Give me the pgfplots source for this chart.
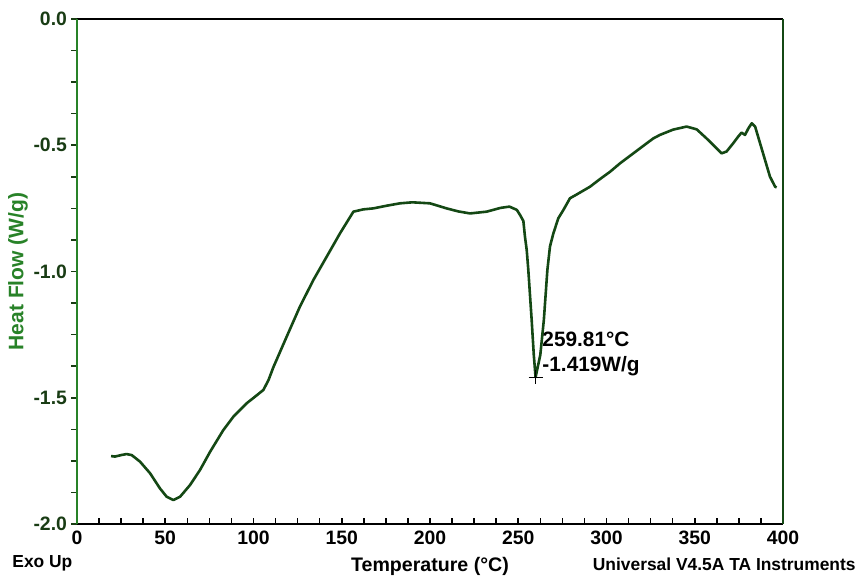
\documentclass[border=0pt]{standalone}
\usepackage{pgfplots}
\pgfplotsset{compat=1.18}
\usepackage{fontspec}
\setmainfont{Liberation Sans}
\definecolor{curve}{RGB}{20,72,20}
\definecolor{lgreen}{RGB}{40,130,40}
\definecolor{tgreen}{RGB}{25,60,20}
\begin{document}
\begin{tikzpicture}[x=1pt,y=1pt]
\useasboundingbox (-38.5,-27.5) rectangle (391.5,262);
\begin{axis}[
  at={(0,0)}, anchor=south west,
  scale only axis, width=353pt, height=252.5pt,
  xmin=0, xmax=400, ymin=-2, ymax=0,
  axis line style={draw=none},
  xtick={0,50,...,400}, minor x tick num=3,
  ytick={-2,-1.5,-1,-0.5,0},
  yticklabels={-2.0,-1.5,-1.0,-0.5,0.0},
  minor y tick num=3,
  xtick pos=bottom, ytick pos=left,
  xtick align=inside, ytick align=outside,
  major tick length=3pt, minor tick length=3pt,
  x tick style={black, line width=0.8pt},
  y tick style={tgreen, line width=0.8pt},
  tick label style={font=\fontsize{9.7}{11}\selectfont\bfseries},
  x tick label style={black, yshift=0pt},
  y tick label style={tgreen, xshift=1.5pt},
  /pgf/number format/assume math mode=true,
  clip=false,
]
\addplot[curve, line width=1.3pt, line join=round] coordinates {
(19.3,-1.731)(21.5,-1.733)(25,-1.727)(28.1,-1.723)(31,-1.727)(35.7,-1.753)
(41.4,-1.799)(47,-1.859)(50.8,-1.892)(54.6,-1.905)(58.4,-1.892)(64,-1.846)
(69.7,-1.786)(75.4,-1.714)(82.9,-1.628)(88.6,-1.575)(96.1,-1.522)(101,-1.495)
(105.6,-1.469)(108.5,-1.43)(111.2,-1.38)(118.8,-1.258)(126.3,-1.139)
(133.9,-1.034)(141.5,-0.941)(149,-0.849)(156.6,-0.763)(162.2,-0.754)
(167.9,-0.750)(175,-0.740)(183,-0.730)(190,-0.726)(200,-0.730)(209.4,-0.750)
(216,-0.762)(222.7,-0.770)(232.1,-0.763)(240,-0.748)(245,-0.743)(249.2,-0.756)
(251,-0.776)(252.9,-0.80)(253.8,-0.862)(254.8,-0.915)(255.7,-0.994)
(257.6,-1.192)(258.8,-1.33)(259.81,-1.419)(262.5,-1.33)(264.5,-1.192)
(266.5,-0.994)(268,-0.90)(269.9,-0.849)(272.7,-0.789)(275.6,-0.756)
(279.3,-0.71)(283.1,-0.695)(290.7,-0.664)(296.3,-0.634)(302,-0.605)
(307.6,-0.572)(315.2,-0.532)(319,-0.512)(326.5,-0.473)(330.3,-0.459)
(337.8,-0.438)(345.4,-0.426)(351.1,-0.437)(356.7,-0.473)(361.5,-0.506)
(365.2,-0.532)(368,-0.525)(371.8,-0.492)(374.6,-0.466)(376.5,-0.450)
(378.5,-0.459)(380.4,-0.433)(382.3,-0.413)(384.2,-0.426)(387,-0.492)
(389.8,-0.558)(392.6,-0.624)(395.5,-0.664)(396.4,-0.667)
};
\addplot[black, only marks, mark=+, mark size=3.5pt, line width=0.7pt] coordinates {(259.81,-1.419)};
\draw[black, line width=0.9pt] (rel axis cs:0,1) -- (rel axis cs:1,1);
\draw[black, line width=0.9pt] (rel axis cs:0,0) -- (rel axis cs:1,0);
\draw[lgreen, line width=1pt] (rel axis cs:0,0) -- (rel axis cs:0,1);
\draw[curve, line width=0.9pt] (rel axis cs:1,0) -- (rel axis cs:1,1);
\node[anchor=west, align=left, font=\fontsize{10.4}{12.5}\selectfont\bfseries, inner sep=0pt] at (axis cs:263.5,-1.325) {259.81°C\\-1.419W/g};
\node[rotate=90, lgreen, font=\fontsize{10.5}{12}\selectfont\bfseries] at ([xshift=-29.5pt]rel axis cs:0,0.5) {Heat Flow (W/g)};
\node[font=\fontsize{9.8}{11}\selectfont\bfseries] at ([yshift=-21pt]rel axis cs:0.5,0) {Temperature (°C)};
\node[anchor=west, font=\fontsize{8.7}{10}\selectfont\bfseries, inner sep=0pt] at ([xshift=-32.5pt, yshift=-19.5pt]rel axis cs:0,0) {Exo Up};
\node[anchor=east, font=\fontsize{8.7}{10}\selectfont\bfseries, inner sep=0pt] at ([xshift=36.5pt, yshift=-20pt]rel axis cs:1,0) {Universal V4.5A TA Instruments};
\end{axis}
\end{tikzpicture}
\end{document}
